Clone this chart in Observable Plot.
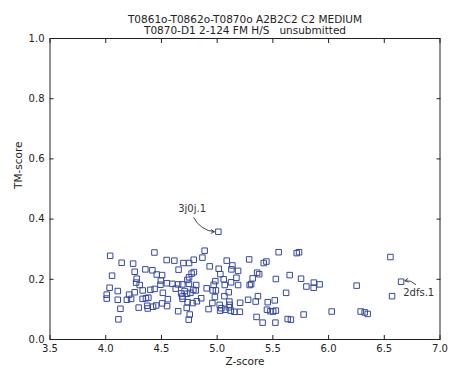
<!DOCTYPE html>
<html>
<head>
<meta charset="utf-8">
<script src="https://cdn.jsdelivr.net/npm/d3@7"></script>
<script src="https://cdn.jsdelivr.net/npm/@observablehq/plot@0.6"></script>
<style>
  html, body { margin: 0; padding: 0; background: #fff; }
</style>
</head>
<body>
<div id="chart"></div>
<script>
const titleLines = ["T0861o-T0862o-T0870o A2B2C2 C2 MEDIUM", "T0870-D1 2-124 FM H/S\u00a0\u00a0\u00a0unsubmitted"];
const xLabel = "Z-score";
const yLabel = "TM-score";
const xTicks = [3.5, 4.0, 4.5, 5.0, 5.5, 6.0, 6.5, 7.0];
const yTicks = [0.0, 0.2, 0.4, 0.6, 0.8, 1.0];

const zScores = [
  4.040, 4.143, 4.246, 4.437, 4.057, 4.260, 4.356, 4.419, 4.547, 4.616,
  4.697, 4.748, 4.790, 4.868, 4.888, 4.933, 4.278, 4.273, 4.305, 4.458,
  4.506, 4.495, 4.491, 4.549, 4.598, 4.654, 4.650, 4.688, 4.733, 4.748,
  4.771, 4.791, 4.747, 4.812, 4.906, 4.035, 4.108, 4.009, 4.009, 4.108,
  4.190, 4.210, 4.260, 4.332, 4.401, 4.439, 4.228, 4.331, 4.361, 4.383,
  4.513, 4.628, 4.558, 4.677, 4.708, 4.730, 4.688, 4.690, 4.760, 4.787,
  4.808, 4.735, 4.780, 4.818, 4.857, 4.923, 4.132, 4.296, 4.372, 4.377,
  4.425, 4.453, 4.506, 4.551, 4.650, 4.727, 4.754, 4.745, 4.114, 5.086,
  5.137, 5.287, 5.418, 5.442, 5.552, 5.714, 5.735, 5.014, 5.128, 5.188,
  5.029, 4.984, 5.059, 5.173, 5.125, 4.969, 5.068, 5.188, 5.319, 5.359,
  5.377, 5.292, 5.305, 5.527, 5.651, 5.753, 5.868, 5.801, 5.866, 4.960,
  4.989, 5.104, 5.065, 4.980, 4.957, 5.023, 5.110, 5.113, 5.206, 5.278,
  5.346, 5.366, 5.454, 5.517, 5.619, 5.027, 5.038, 5.072, 5.105, 5.123,
  5.155, 5.204, 5.447, 5.478, 5.503, 5.527, 5.354, 5.408, 5.523, 5.633,
  5.662, 5.776, 5.920, 6.555, 6.252, 6.651, 6.570, 6.028, 6.288, 6.324,
  6.351, 5.011
];
const tmScores = [
  0.278, 0.255, 0.252, 0.289, 0.212, 0.225, 0.233, 0.230, 0.264, 0.262,
  0.254, 0.254, 0.265, 0.272, 0.295, 0.243, 0.202, 0.189, 0.181, 0.216,
  0.214, 0.196, 0.182, 0.187, 0.185, 0.232, 0.183, 0.183, 0.198, 0.207,
  0.219, 0.224, 0.185, 0.181, 0.170, 0.172, 0.161, 0.149, 0.136, 0.132,
  0.132, 0.149, 0.157, 0.163, 0.165, 0.168, 0.135, 0.135, 0.137, 0.139,
  0.155, 0.169, 0.134, 0.153, 0.161, 0.152, 0.143, 0.135, 0.155, 0.165,
  0.163, 0.124, 0.121, 0.127, 0.137, 0.101, 0.102, 0.106, 0.112, 0.103,
  0.109, 0.113, 0.120, 0.111, 0.094, 0.105, 0.083, 0.066, 0.067, 0.262,
  0.246, 0.266, 0.254, 0.259, 0.290, 0.287, 0.290, 0.235, 0.233, 0.228,
  0.217, 0.194, 0.200, 0.205, 0.190, 0.182, 0.181, 0.181, 0.203, 0.222,
  0.217, 0.181, 0.184, 0.201, 0.214, 0.202, 0.189, 0.176, 0.172, 0.163,
  0.163, 0.157, 0.144, 0.141, 0.121, 0.115, 0.126, 0.115, 0.122, 0.132,
  0.126, 0.144, 0.124, 0.130, 0.155, 0.096, 0.104, 0.099, 0.107, 0.096,
  0.092, 0.092, 0.099, 0.094, 0.093, 0.096, 0.075, 0.056, 0.056, 0.068,
  0.066, 0.083, 0.183, 0.274, 0.179, 0.192, 0.144, 0.093, 0.093, 0.090,
  0.085, 0.358
];

// annotations: label, label position, arrow start, target point
const annLabels = ["3j0j.1", "2dfs.1"];
const annTextX = [4.775, 6.809];
const annTextY = [0.435, 0.154];
const annStartX = [4.79, 6.782];
const annStartY = [0.405, 0.183];
const annEndX = [5.011, 6.651];
const annEndY = [0.358, 0.192];

const points = zScores.map((z, i) => ({z, tm: tmScores[i]}));
const anns = annLabels.map((label, i) => ({
  label, tx: annTextX[i], ty: annTextY[i],
  sx: annStartX[i], sy: annStartY[i], ex: annEndX[i], ey: annEndY[i]
}));

const ink = "#222";
const chart = Plot.plot({
  width: 451,
  height: 374,
  marginLeft: 49.5,
  marginRight: 11.5,
  marginTop: 38,
  marginBottom: 35,
  style: {fontFamily: "DejaVu Sans", fontSize: "10px", color: ink, background: "#fff"},
  x: {domain: [3.5, 7.0], label: null},
  y: {domain: [0, 1], label: null},
  marks: [
    Plot.dot(points, {x: "z", y: "tm", symbol: "square", r: 3.1, stroke: "#3547a6", strokeWidth: 1, fill: "none"}),
    Plot.arrow(anns, {x1: "sx", y1: "sy", x2: "ex", y2: "ey", bend: -35, headLength: 6, insetEnd: 4, stroke: "#333", strokeWidth: 0.9}),
    Plot.text(anns, {x: "tx", y: "ty", text: "label", fill: "#333", fontSize: 10}),
    Plot.axisX({anchor: "bottom", ticks: xTicks, tickSize: -4, tickPadding: 9.5, tickFormat: d3.format(".1f"), stroke: ink, fill: ink}),
    Plot.axisX({anchor: "top", ticks: xTicks, tickSize: -4, tickFormat: () => "", stroke: ink}),
    Plot.axisY({anchor: "left", ticks: yTicks, tickSize: -4, tickPadding: 9.5, tickFormat: d3.format(".1f"), stroke: ink, fill: ink}),
    Plot.axisY({anchor: "right", ticks: yTicks, tickSize: -4, tickFormat: () => "", stroke: ink}),
    Plot.frame({stroke: ink, strokeWidth: 1}),
    Plot.text([titleLines[0]], {frameAnchor: "top", dy: -23, fill: ink, fontSize: 10.5}),
    Plot.text([titleLines[1]], {frameAnchor: "top", dy: -12, fill: ink, fontSize: 10.5}),
    Plot.text([xLabel], {frameAnchor: "bottom", dy: 25, fill: ink, fontSize: 10.5}),
    Plot.text([yLabel], {frameAnchor: "left", dx: -31, rotate: -90, fill: ink, fontSize: 10.5})
  ]
});
document.getElementById("chart").appendChild(chart);
</script>
</body>
</html>
